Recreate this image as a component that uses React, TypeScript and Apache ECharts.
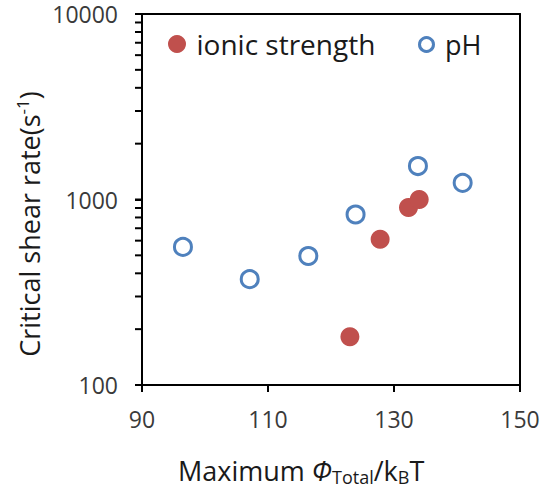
import React, { useEffect, useRef } from "react";
import * as echarts from "echarts";

const ionicX = [123.0, 127.8, 132.3, 134.0];
const ionicY = [182, 610, 905, 1000];
const phX = [96.5, 107.1, 116.4, 123.9, 133.8, 140.9];
const phY = [555, 372, 496, 830, 1515, 1230];
const xTicks = [90, 110, 130, 150];
const yLabels = [100, 1000, 10000];
const yTicks = [100, 200, 300, 400, 500, 600, 700, 800, 900, 1000, 2000, 3000, 4000, 5000, 6000, 7000, 8000, 9000, 10000];

const RED = "#C0504D";
const BLUE = "#4F81BD";
const FONT = "Open Sans";
const TEXT = "#1a1a1a";

export default function App() {
  const ref = useRef<HTMLDivElement>(null);
  useEffect(() => {
    if (!ref.current) return;
    const chart = echarts.init(ref.current, null, { renderer: "svg" });
    const titles: any[] = [
      {
        type: "text",
        x: 29,
        y: 224,
        rotation: Math.PI / 2,
        style: {
          text: "Critical shear rate(s{sup|-1})",
          font: `27px "${FONT}"`,
          fill: TEXT,
          align: "center",
          verticalAlign: "middle",
          lineHeight: 30,
          rich: {
            sup: { fontSize: 17, fontFamily: FONT, verticalAlign: "top", lineHeight: 30, fill: TEXT },
          },
        },
      },
      {
        type: "text",
        x: 178,
        y: 470,
        style: {
          text: "Maximum {phi|Φ}{sub|Total}/k{sub|B}T",
          font: `27px "${FONT}"`,
          fill: TEXT,
          align: "left",
          verticalAlign: "middle",
          lineHeight: 32,
          rich: {
            phi: { fontSize: 27, fontStyle: "italic", fontFamily: FONT, lineHeight: 32, fill: TEXT },
            sub: { fontSize: 18, fontFamily: FONT, verticalAlign: "bottom", lineHeight: 18, fill: TEXT },
          },
        },
      },
    ];
    const frameAxis = {
      show: true,
      axisLine: { show: true, onZero: false, lineStyle: { color: "#000", width: 2 } },
      axisTick: { show: false },
      axisLabel: { show: false },
      splitLine: { show: false },
    };
    chart.setOption({
      animation: false,
      textStyle: { fontFamily: FONT },
      grid: { left: 142, top: 14, width: 378, height: 371, containLabel: false },
      legend: [
        {
          data: ["ionic strength"],
          left: 168,
          top: 30,
          padding: 0,
          itemWidth: 29,
          itemHeight: 18,
          icon: "circle",
          textStyle: { fontSize: 28, color: TEXT, fontFamily: FONT },
          itemStyle: { borderWidth: 0, opacity: 1 },
        },
        {
          data: ["pH"],
          left: 418,
          top: 31,
          padding: 0,
          itemWidth: 27,
          itemHeight: 14,
          icon: "circle",
          textStyle: { fontSize: 27, color: TEXT, fontFamily: FONT },
          itemStyle: { color: "#fff", borderColor: BLUE, borderWidth: 3, opacity: 1 },
        },
      ],
      xAxis: [
        {
          type: "value",
          min: 90,
          max: 150,
          position: "bottom",
          axisLine: { show: true, onZero: false, lineStyle: { color: "#000", width: 2 } },
          axisTick: { show: true, customValues: xTicks, length: 7, inside: false, lineStyle: { color: "#000", width: 2 } },
          axisLabel: { customValues: xTicks, fontSize: 23, color: "#3a3a3a", margin: 22, fontFamily: FONT },
          splitLine: { show: false },
        },
        { type: "value", min: 90, max: 150, position: "top", ...frameAxis },
      ],
      yAxis: [
        {
          type: "log",
          logBase: 10,
          min: 100,
          max: 10000,
          position: "left",
          axisLine: { show: true, onZero: false, lineStyle: { color: "#000", width: 2 } },
          axisTick: { show: true, length: 7, inside: false, lineStyle: { color: "#000", width: 2 } },
          axisLabel: {
            customValues: yLabels,
            fontSize: 23,
            color: "#3a3a3a",
            margin: 24,
            fontFamily: FONT,
            formatter: (v: number) => String(Math.round(v)),
          },
          splitLine: { show: false },
          minorTick: { show: false },
        },
        { type: "log", logBase: 10, min: 100, max: 10000, position: "right", ...frameAxis },
      ],
      graphic: titles,
      series: [
        {
          name: "ionic strength",
          type: "scatter",
          xAxisIndex: 0,
          yAxisIndex: 0,
          symbol: "circle",
          symbolSize: 19,
          itemStyle: { color: RED, opacity: 1 },
          data: ionicX.map((x, i) => [x, ionicY[i]]),
          z: 3,
        },
        {
          name: "pH",
          type: "scatter",
          xAxisIndex: 0,
          yAxisIndex: 0,
          symbol: "circle",
          symbolSize: 17,
          itemStyle: { color: "#fff", borderColor: BLUE, borderWidth: 3, opacity: 1 },
          data: phX.map((x, i) => [x, phY[i]]),
          z: 3,
        },
      ],
    });

    // minor and major ticks positioned through the chart's own scales
    try {
      const toX = (v: number) => Number(chart.convertToPixel({ xAxisIndex: 0, yAxisIndex: 0 }, [v, yTicks[0]])[0]);
      const toY = (v: number) => Number(chart.convertToPixel({ xAxisIndex: 0, yAxisIndex: 0 }, [xTicks[0], v])[1]);
      const x0 = toX(xTicks[0]);
      const y0 = toY(yTicks[0]);
      const tickLines: any[] = [];
      if (isFinite(x0) && isFinite(y0)) {
        yTicks.forEach((v) => {
          const y = toY(v);
          tickLines.push({
            type: "rect",
            silent: true,
            z: 100,
            shape: { x: x0 - 7, y: y - 1, width: 7, height: 2 },
            style: { fill: "#000" },
          });
        });
        xTicks.forEach((v) => {
          const x = toX(v);
          tickLines.push({
            type: "rect",
            silent: true,
            z: 100,
            shape: { x: x - 1, y: y0, width: 2, height: 7 },
            style: { fill: "#000" },
          });
        });
        chart.setOption({ graphic: [...titles, ...tickLines] });
      }
    } catch (e) {
      // keep the chart as drawn
    }

    return () => chart.dispose();
  }, []);
  return <div ref={ref} style={{ width: 543, height: 499, position: "absolute", left: 0, top: 0 }} />;
}
